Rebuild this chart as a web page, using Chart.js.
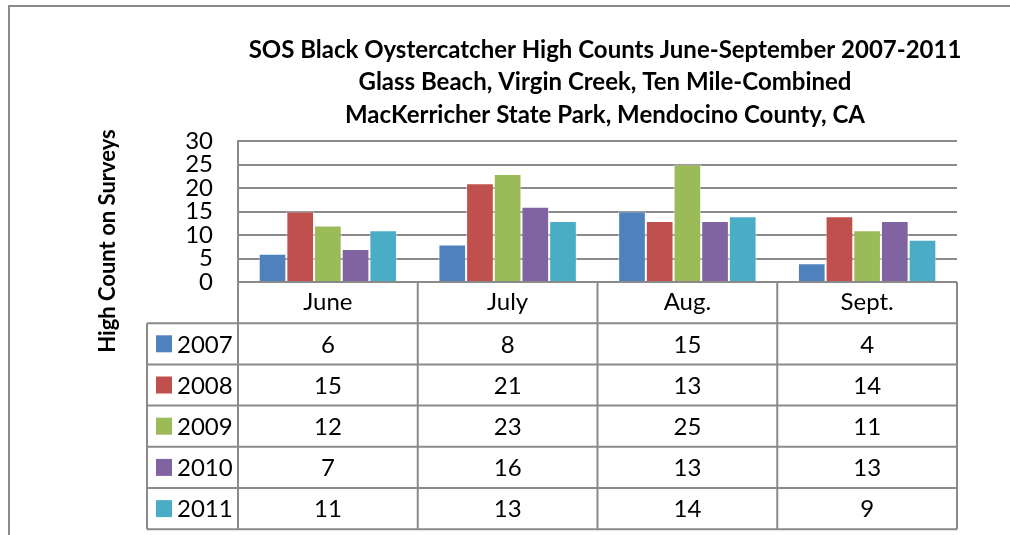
<!DOCTYPE html>
<html>
<head>
<meta charset="utf-8">
<script src="https://cdn.jsdelivr.net/npm/chart.js@4"></script>
<style>
html,body{margin:0;padding:0;background:#fff;}
#wrap{width:1010px;height:535px;position:relative;}
</style>
</head>
<body>
<div id="wrap"><canvas id="c" width="1010" height="535"></canvas></div>
<script>
const categories = ['June', 'July', 'Aug.', 'Sept.'];
const years = ['2007', '2008', '2009', '2010', '2011'];
const values2007 = [6, 8, 15, 4];
const values2008 = [15, 21, 13, 14];
const values2009 = [12, 23, 25, 11];
const values2010 = [7, 16, 13, 13];
const values2011 = [11, 13, 14, 9];
const yTicks = [0, 5, 10, 15, 20, 25, 30];
const titleLines = [
  'SOS Black Oystercatcher High Counts June-September 2007-2011',
  'Glass Beach, Virgin Creek, Ten Mile-Combined',
  'MacKerricher State Park, Mendocino County, CA'
];
const yTitle = 'High Count on Surveys';

const seriesValues = [values2007, values2008, values2009, values2010, values2011];
const colors = ['#4F81BD', '#C0504D', '#9BBB59', '#8064A2', '#4BACC6'];
const FONT = 'Lato, "Open Sans", sans-serif';
const LINE = '#8a8a8a';

const datasets = years.map((y, i) => ({
  label: y,
  data: seriesValues[i],
  backgroundColor: colors[i],
  borderColor: 'rgba(255,255,255,0.55)',
  borderWidth: 1,
  categoryPercentage: 0.77,
  barPercentage: 1.0
}));

const decorPlugin = {
  id: 'decor',
  afterDraw(chart) {
    const ctx = chart.ctx;
    const xs = chart.scales.x;
    const area = chart.chartArea;
    ctx.save();
    // outer frame
    ctx.strokeStyle = LINE;
    ctx.lineWidth = 2;
    ctx.beginPath();
    ctx.moveTo(9, 535); ctx.lineTo(9, 6); ctx.lineTo(1010, 6);
    ctx.stroke();

    // title
    ctx.fillStyle = '#000';
    ctx.font = 'bold 24px ' + FONT;
    ctx.textAlign = 'center';
    ctx.textBaseline = 'middle';
    const tys = [50, 82, 115];
    titleLines.forEach((t, i) => ctx.fillText(t, 605, tys[i]));

    // y title
    ctx.save();
    ctx.translate(108, 241);
    ctx.rotate(-Math.PI / 2);
    ctx.font = 'bold 22px ' + FONT;
    ctx.fillText(yTitle, 0, 0);
    ctx.restore();

    // data table
    const step = xs.getPixelForValue(1) - xs.getPixelForValue(0);
    const half = step / 2;
    const top = area.bottom;
    const rowH = 41.2;
    const tableLeft = 147;
    const right = xs.getPixelForValue(categories.length - 1) + half;
    const left = xs.getPixelForValue(0) - half;
    const bottom = top + rowH * (years.length + 1);
    ctx.strokeStyle = LINE;
    ctx.lineWidth = 2;
    ctx.beginPath();
    ctx.moveTo(left, top); ctx.lineTo(right, top);
    for (let r = 1; r <= years.length + 1; r++) {
      const y = top + rowH * r;
      ctx.moveTo(tableLeft, y); ctx.lineTo(right, y);
    }
    ctx.moveTo(tableLeft, top + rowH); ctx.lineTo(tableLeft, bottom);
    for (let i = 0; i <= categories.length; i++) {
      const x = left + step * i;
      ctx.moveTo(x, top); ctx.lineTo(x, bottom);
    }
    ctx.stroke();

    ctx.font = '24px ' + FONT;
    ctx.textBaseline = 'middle';
    years.forEach((yr, r) => {
      const cy = top + rowH * (r + 1) + rowH / 2;
      ctx.fillStyle = colors[r];
      ctx.fillRect(156, cy - 8.5, 16, 17);
      ctx.fillStyle = '#000';
      ctx.textAlign = 'left';
      ctx.fillText(yr, 177, cy + 1);
      ctx.textAlign = 'center';
      seriesValues[r].forEach((v, i) => {
        ctx.fillText(String(v), xs.getPixelForValue(i), cy + 1);
      });
    });
    ctx.restore();
  }
};

new Chart(document.getElementById('c'), {
  type: 'bar',
  data: { labels: categories, datasets },
  options: {
    responsive: false,
    animation: false,
    devicePixelRatio: 1,
    layout: { padding: { left: 0, right: 53, top: 141, bottom: 0 } },
    plugins: { legend: { display: false }, title: { display: false }, tooltip: { enabled: false } },
    scales: {
      x: {
        grid: { display: false, drawTicks: false },
        border: { display: false },
        ticks: { color: '#000', font: { family: FONT, size: 24, lineHeight: 1.2 }, padding: 6, maxRotation: 0 },
        afterFit(scale) { scale.height = 253; }
      },
      y: {
        min: 0, max: 30,
        afterBuildTicks(scale) { scale.ticks = yTicks.map(v => ({ value: v })); },
        grid: { color: LINE, lineWidth: 2, drawTicks: false },
        border: { display: true, color: LINE, width: 2 },
        ticks: { color: '#000', font: { family: FONT, size: 24, lineHeight: 1 }, padding: 25, autoSkip: false },
        afterFit(scale) { scale.width = 238; }
      }
    }
  },
  plugins: [decorPlugin]
});
</script>
</body>
</html>
